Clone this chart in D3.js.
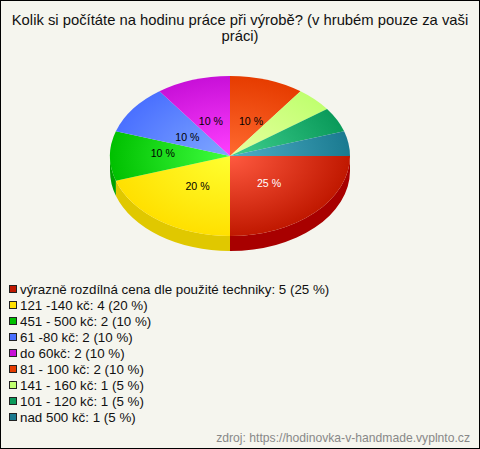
<!DOCTYPE html>
<html><head><meta charset="utf-8">
<script src="https://cdn.jsdelivr.net/npm/d3@7"></script>
<style>html,body{margin:0;padding:0;background:#f5f5ee}svg{display:block}text{font-family:"Liberation Sans",Arial,sans-serif}</style>
</head><body><svg id="c" width="480" height="449"></svg>
<script>
const categories=["výrazně rozdílná cena dle použité techniky","121 -140 kč","451 - 500 kč","61 -80 kč","do 60kč","81 - 100 kč","141 - 160 kč","101 - 120 kč","nad 500 kč"];
const counts=[5,4,2,2,2,2,1,1,1];
const percents=[25,20,10,10,10,10,5,5,5];
const edgeColors=["#c01800","#ffe000","#00c000","#4a70ff","#c810d8","#e63c00","#c0ff70","#0a9a5a","#1a7a90"];
const centerColors=["#ff5a40","#ffff30","#40ff40","#80a8ff","#ff40ff","#ff6a30","#e8ffa0","#40d090","#50b0c8"];
const sideColors=["#a80000","#e0c800","#00a000","#3050d0","#a000b0","#c03000","#a0d050","#008040","#106070"];
const title=["Kolik si počítáte na hodinu práce při výrobě? (v hrubém pouze za vaši","práci)"];
const source="zdroj: https://hodinovka-v-handmade.vyplnto.cz";

const svg=d3.select("#c");
const W=480,H=449,cx=230,cy=156,rx=120,ry=80,depth=15;
const labelDx=[0,0,-12,2,-2,4], labelDy=[1,1,-3,3,0,0];
svg.append("rect").attr("x",.5).attr("y",.5).attr("width",W-1).attr("height",H-1).attr("fill","#f5f5ee").attr("stroke","#000");
svg.selectAll("text.t").data(title).join("text").attr("class","t").attr("x",240).attr("y",(d,i)=>25+i*16)
  .attr("text-anchor","middle").attr("font-size",14.8).attr("fill","#111").text(d=>d);

const pie=d3.pie().sort(null).value(d=>d).startAngle(Math.PI/2).endAngle(Math.PI/2+2*Math.PI);
const arcs=pie(counts);
const defs=svg.append("defs");
arcs.forEach((a,i)=>{
  const g=defs.append("radialGradient").attr("id","g"+i).attr("gradientUnits","userSpaceOnUse").attr("cx",0).attr("cy",0).attr("r",rx);
  g.append("stop").attr("offset",0).attr("stop-color",centerColors[i]);
  g.append("stop").attr("offset",1).attr("stop-color",edgeColors[i]);
});
const px=t=>cx+rx*Math.sin(t), py=t=>cy-ry*Math.cos(t);
const sideG=svg.append("g");
arcs.forEach((a,i)=>{
  const lo=Math.max(a.startAngle,Math.PI/2), hi=Math.min(a.endAngle,3*Math.PI/2);
  if(hi<=lo)return;
  const p=`M${px(lo)},${py(lo)}A${rx},${ry} 0 0 1 ${px(hi)},${py(hi)}L${px(hi)},${py(hi)+depth}A${rx},${ry} 0 0 0 ${px(lo)},${py(lo)+depth}Z`;
  sideG.append("path").attr("d",p).attr("fill",sideColors[i]);
});
const arc=d3.arc().innerRadius(0).outerRadius(rx);
svg.append("g").attr("transform",`translate(${cx},${cy}) scale(1,${ry/rx})`)
  .selectAll("path").data(arcs).join("path").attr("d",arc).attr("fill",(d,i)=>`url(#g${i})`);
const la=d3.arc().innerRadius(rx*.46).outerRadius(rx*.46);
svg.selectAll("text.l").data(arcs).join("text").attr("class","l").each(function(d,i){
  if(percents[i]<10)return;
  const c=la.centroid(d);
  d3.select(this).attr("x",cx+c[0]+labelDx[i]).attr("y",cy+c[1]*ry/rx+3.5+labelDy[i]).attr("text-anchor","middle").attr("font-size",10.6)
    .attr("fill",i==0?"#fff":"#000").text(percents[i]+" %");
});
const leg=svg.selectAll("g.leg").data(categories).join("g").attr("class","leg").attr("transform",(d,i)=>`translate(0,${289+i*16})`);
leg.append("rect").attr("x",9.5).attr("y",-3.5).attr("width",7).attr("height",7).attr("fill",(d,i)=>edgeColors[i]).attr("stroke","#222");
leg.append("text").attr("x",20).attr("y",4.6).attr("font-size",13.35).attr("fill","#111").text((d,i)=>`${d}: ${counts[i]} (${percents[i]} %)`);
svg.append("text").attr("x",470).attr("y",441.5).attr("text-anchor","end").attr("font-size",12.15).attr("fill","#888").text(source);
</script></body></html>
